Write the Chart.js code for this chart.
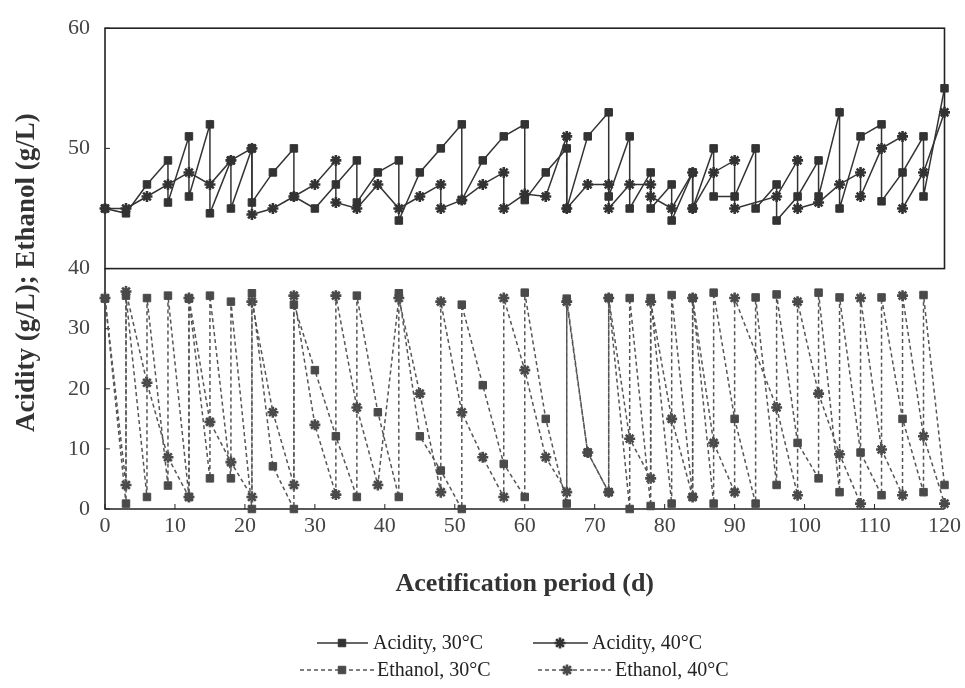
<!DOCTYPE html>
<html>
<head>
<meta charset="utf-8">
<script src="https://cdn.jsdelivr.net/npm/chart.js@4.4.0/dist/chart.umd.min.js"></script>
<style>
  html, body { margin: 0; padding: 0; background: #fff; }
</style>
</head>
<body>
<canvas id="myChart" width="965" height="688"></canvas>
<script>
// values; a day listed twice is a harvest / refill step
var acid30Days = [0, 3, 6, 9, 9, 12, 12, 15, 15, 18, 18, 21, 21, 24, 27, 27, 30, 33, 36, 36, 39, 42, 42, 45, 48, 51, 51, 54, 57, 60, 60, 63, 66, 66, 69, 72, 72, 75, 75, 78, 78, 81, 81, 84, 84, 87, 87, 90, 93, 93, 96, 96, 99, 102, 102, 105, 105, 108, 111, 111, 114, 117, 117, 120];
var acid30Vals = [45, 44.6, 47, 49, 45.5, 51, 46, 52, 44.6, 49, 45, 50, 45.5, 48, 50, 46, 45, 47, 49, 45.5, 48, 49, 44, 48, 50, 52, 45.7, 49, 51, 52, 45.7, 48, 50, 45, 51, 53, 46, 51, 45, 48, 45, 47, 44, 48, 45, 50, 46, 46, 50, 45, 47, 44, 46, 49, 46, 53, 45, 51, 52, 45.6, 48, 51, 46, 55];

var acid40Days = [0, 3, 6, 9, 12, 15, 18, 21, 21, 24, 27, 30, 33, 33, 36, 39, 42, 45, 48, 48, 51, 54, 57, 57, 60, 63, 66, 66, 69, 72, 72, 75, 78, 78, 81, 84, 84, 87, 90, 90, 96, 99, 99, 102, 105, 108, 108, 111, 114, 114, 117, 120];
var acid40Vals = [45, 45, 46, 47, 48, 47, 49, 50, 44.5, 45, 46, 47, 49, 45.5, 45, 47, 45, 46, 47, 45, 45.7, 47, 48, 45, 46.2, 46, 51, 45, 47, 47, 45, 47, 47, 46, 45, 48, 45, 48, 49, 45, 46, 49, 45, 45.5, 47, 48, 46, 50, 51, 45, 48, 53];

var eth30Days = [0, 3, 3, 6, 6, 9, 9, 12, 12, 15, 15, 18, 18, 21, 21, 24, 27, 27, 30, 33, 36, 36, 39, 42, 42, 45, 48, 51, 51, 54, 57, 60, 60, 63, 66, 66, 69, 72, 72, 75, 75, 78, 78, 81, 81, 84, 84, 87, 87, 90, 93, 93, 96, 96, 99, 102, 102, 105, 105, 108, 111, 111, 114, 117, 117, 120];
var eth30Vals = [35, 0.9, 35.5, 2, 35.1, 3.9, 35.5, 2, 35, 5.1, 35.5, 5.1, 34.5, 0, 35.9, 7.1, 0, 34, 23.1, 12.1, 2, 35.5, 16.1, 2, 35.9, 12.1, 6.4, 0, 34, 20.6, 7.5, 2, 36, 15, 0.9, 35, 9.4, 2.8, 35.1, 0, 35.1, 0.5, 35.1, 0.9, 35.6, 2, 35.1, 0.9, 36, 15, 0.9, 35.2, 4, 35.7, 11, 5.1, 36, 2.8, 35.2, 9.4, 2.3, 35.2, 15, 2.8, 35.6, 4];

var eth40Days = [0, 3, 3, 6, 9, 12, 12, 15, 18, 21, 21, 24, 27, 27, 30, 33, 33, 36, 39, 42, 45, 48, 48, 51, 54, 57, 57, 60, 63, 66, 66, 69, 72, 72, 75, 78, 78, 81, 84, 84, 87, 90, 90, 96, 99, 99, 102, 105, 108, 108, 111, 114, 114, 117, 120];
var eth40Vals = [35.1, 4, 36.2, 21, 8.6, 2, 35.1, 14.5, 7.8, 2, 34.5, 16.1, 4, 35.5, 14, 2.4, 35.5, 16.9, 4, 35.1, 19.2, 2.8, 34.5, 16.1, 8.6, 2, 35.1, 23.1, 8.6, 2.8, 34.5, 9.4, 2.8, 35.1, 11.7, 5.1, 34.5, 15, 2, 35.1, 11, 2.8, 35.1, 16.9, 2.3, 34.5, 19.2, 9.1, 0.9, 35.1, 9.9, 2.3, 35.5, 12.1, 0.9];

var upperTicks = [40, 50, 60];
var lowerTicks = [0, 10, 20, 30];

function pairs(days, vals) {
    return days.map(function (d, i) { return { x: d, y: vals[i] }; });
}

var serif = '"Liberation Serif", "Times New Roman", serif';

// box round the upper part, axis lines and inward ticks
var framePlugin = {
    id: 'frame',
    beforeDatasetsDraw: function (chart) {
        var ctx = chart.ctx, a = chart.chartArea, s = chart.scales;
        var mid = s.yHigh.getPixelForValue(40);
        ctx.save();
        ctx.strokeStyle = '#222';
        ctx.lineWidth = 1.6;
        ctx.strokeRect(a.left, a.top, a.right - a.left, mid - a.top);
        ctx.beginPath();
        ctx.moveTo(a.left, mid);
        ctx.lineTo(a.left, a.bottom);
        ctx.lineTo(a.right, a.bottom);
        ctx.stroke();
        ctx.lineWidth = 1;
        ctx.beginPath();
        s.x.ticks.forEach(function (t) {
            var px = s.x.getPixelForValue(t.value);
            ctx.moveTo(px, a.bottom);
            ctx.lineTo(px, a.bottom - 5);
        });
        [s.yHigh, s.yLow].forEach(function (sc) {
            sc.ticks.forEach(function (t) {
                var py = sc.getPixelForValue(t.value);
                ctx.moveTo(a.left, py);
                ctx.lineTo(a.left + 5, py);
            });
        });
        ctx.stroke();
        ctx.restore();
    },
    afterDraw: function (chart) {
        var ctx = chart.ctx, a = chart.chartArea;
        ctx.save();
        // y axis title
        ctx.translate(27, (a.top + a.bottom) / 2 + 4);
        ctx.rotate(-Math.PI / 2);
        ctx.fillStyle = '#333';
        ctx.font = 'bold 27px ' + serif;
        ctx.textAlign = 'center';
        ctx.textBaseline = 'middle';
        ctx.fillText('Acidity (g/L); Ethanol (g/L)', 0, 0);
        ctx.restore();

        // legend: line + marker + label, two rows
        var rows = [
            { ds: 0, x0: 317, x1: 368, px: 342, tx: 373, y: 643 },
            { ds: 1, x0: 533, x1: 588, px: 560, tx: 592, y: 643 },
            { ds: 2, x0: 300, x1: 375, px: 342, tx: 377, y: 670 },
            { ds: 3, x0: 538, x1: 611, px: 567, tx: 615, y: 670 }
        ];
        ctx.save();
        rows.forEach(function (r) {
            var ds = chart.data.datasets[r.ds];
            ctx.strokeStyle = ds.borderColor;
            ctx.lineWidth = 1.5;
            ctx.setLineDash(ds.borderDash || []);
            ctx.beginPath();
            ctx.moveTo(r.x0, r.y);
            ctx.lineTo(r.x1, r.y);
            ctx.stroke();
            ctx.setLineDash([]);
            ctx.fillStyle = ds.pointBackgroundColor;
            ctx.strokeStyle = ds.pointBorderColor;
            ctx.lineWidth = ds.pointBorderWidth;
            Chart.helpers.drawPoint(ctx, {
                pointStyle: ds.pointStyle, radius: ds.pointRadius,
                borderWidth: ds.pointBorderWidth, rotation: 0
            }, r.px, r.y);
            ctx.fillStyle = '#222';
            ctx.font = '20px ' + serif;
            ctx.textAlign = 'left';
            ctx.textBaseline = 'middle';
            ctx.fillText(ds.label, r.tx, r.y + 1);
        });
        ctx.restore();
    }
};

function series(label, days, vals, axis, style, dashed) {
    return {
        label: label,
        data: pairs(days, vals),
        yAxisID: axis,
        borderColor: dashed ? '#555' : '#333',
        borderWidth: 1.5,
        borderDash: dashed ? [4, 3] : [],
        pointStyle: style,
        pointRadius: style === 'rect' ? 5.3 : 5.5,
        pointBorderWidth: style === 'rect' ? 1 : 2.6,
        pointBackgroundColor: dashed ? '#4a4a4a' : '#333',
        pointBorderColor: dashed ? '#4a4a4a' : '#333',
        tension: 0,
        fill: false,
        clip: false
    };
}

var tickFont = { family: serif, size: 22 };

var ctx = document.getElementById('myChart').getContext('2d');
new Chart(ctx, {
    type: 'line',
    data: {
        datasets: [
            series('Acidity, 30°C', acid30Days, acid30Vals, 'yHigh', 'rect', false),
            series('Acidity, 40°C', acid40Days, acid40Vals, 'yHigh', 'star', false),
            series('Ethanol, 30°C', eth30Days, eth30Vals, 'yLow', 'rect', true),
            series('Ethanol, 40°C', eth40Days, eth40Vals, 'yLow', 'star', true)
        ]
    },
    options: {
        responsive: false,
        animation: false,
        layout: { padding: { left: 45, right: 17, top: 22, bottom: 88 } },
        plugins: { legend: { display: false }, tooltip: { enabled: false } },
        scales: {
            x: {
                type: 'linear', min: 0, max: 120,
                ticks: { stepSize: 10, color: '#444', font: tickFont, padding: 4, maxRotation: 0 },
                grid: { display: false, drawTicks: false },
                border: { display: false },
                title: {
                    display: true, text: 'Acetification period (d)', color: '#333',
                    font: { family: serif, size: 26, weight: 'bold' }, padding: { top: 0, bottom: 0 }
                },
                afterFit: function (s) { s.height = 91; }
            },
            // stacked y scales: the later one is placed on top
            yLow: {
                type: 'linear', position: 'left', stack: 'y', stackWeight: 1, min: 0, max: 40,
                afterBuildTicks: function (s) { s.ticks = lowerTicks.map(function (v) { return { value: v }; }); },
                ticks: { color: '#444', font: tickFont, padding: 15 },
                grid: { display: false, drawTicks: false },
                border: { display: false },
                afterFit: function (s) { s.width = 60; }
            },
            yHigh: {
                type: 'linear', position: 'left', stack: 'y', stackWeight: 1, min: 40, max: 60,
                afterBuildTicks: function (s) { s.ticks = upperTicks.map(function (v) { return { value: v }; }); },
                ticks: { color: '#444', font: tickFont, padding: 15 },
                grid: { display: false, drawTicks: false },
                border: { display: false },
                afterFit: function (s) { s.width = 60; }
            }
        }
    },
    plugins: [framePlugin]
});
</script>
</body>
</html>
